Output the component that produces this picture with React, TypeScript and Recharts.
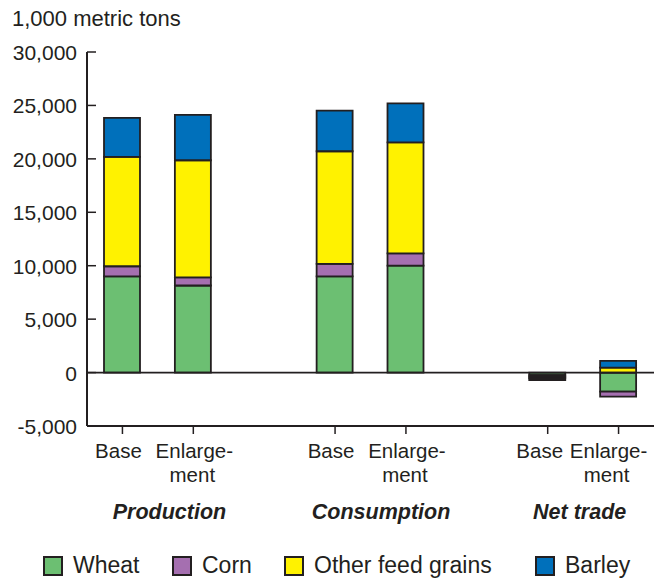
import React from "react";
import {
  Bar,
  BarChart,
  ReferenceLine,
  XAxis,
  YAxis,
} from "recharts";

// slots: two bars per group, an empty slot between groups
const slots = ["Base", "Enlargement", "", "Base", "Enlargement", "", "Base", "Enlargement"];
const groups = ["Production", "Consumption", "Net trade"];

const wheat = [9000, 8150, null, 9000, 10000, null, -250, -1780];
const corn = [950, 750, null, 1180, 1150, null, -150, -470];
const otherFeed = [10240, 10970, null, 10530, 10400, null, -150, 470];
const barley = [3650, 4250, null, 3800, 3650, null, -150, 620];

const yTicks = [-5000, 0, 5000, 10000, 15000, 20000, 25000, 30000];

const data = slots.map((name, i) => ({
  name,
  wheat: wheat[i],
  corn: corn[i],
  other: otherFeed[i],
  barley: barley[i],
}));

const FONT = "'Liberation Sans', Arial, Helvetica, sans-serif";
const INK = "#231f20";

const series = [
  { key: "wheat", label: "Wheat", color: "#6cbf72" },
  { key: "corn", label: "Corn", color: "#a56fb0" },
  { key: "other", label: "Other feed grains", color: "#fff200" },
  { key: "barley", label: "Barley", color: "#0070bb" },
];

const AXIS_X = 87;
const AXIS_Y = 426;

// small label nudges, per group
const groupDx = [47, 46, 32];
const baseDx = [-4, -4, -8];
const enlDx = [1, 1, -10];

function XTick(props: any) {
  const { x, payload } = props;
  const i = payload.index;
  const label = slots[i];
  if (!label) return null;
  const gi = Math.floor(i / 3);
  const isEnl = label === "Enlargement";
  const dx = isEnl ? enlDx[gi] : baseDx[gi];
  const y = AXIS_Y;
  return (
    <g>
      <line x1={x} x2={x} y1={y} y2={y + 8} stroke={INK} strokeWidth={1.5} />
      <text
        x={x + dx}
        y={y + 32}
        textAnchor="middle"
        fontFamily={FONT}
        fontSize={20.5}
        fill={INK}
      >
        {isEnl ? "Enlarge-" : label}
      </text>
      {isEnl && (
        <text
          x={x + dx - 2}
          y={y + 55.5}
          textAnchor="middle"
          fontFamily={FONT}
          fontSize={20.5}
          fill={INK}
        >
          ment
        </text>
      )}
      {!isEnl && (
        <text
          x={x + groupDx[gi]}
          y={y + 93}
          textAnchor="middle"
          fontFamily={FONT}
          fontSize={21.5}
          fontWeight="bold"
          fontStyle="italic"
          fill={INK}
        >
          {groups[gi]}
        </text>
      )}
    </g>
  );
}

function YTick(props: any) {
  const { y, payload } = props;
  return (
    <g>
      <line x1={AXIS_X} x2={AXIS_X + 9} y1={y} y2={y} stroke={INK} strokeWidth={1.5} />
      <text
        x={AXIS_X - 10}
        y={y}
        dy="0.38em"
        textAnchor="end"
        fontFamily={FONT}
        fontSize={21}
        fill={INK}
      >
        {payload.value.toLocaleString("en-US")}
      </text>
    </g>
  );
}

const legendLeft = [43, 172, 284, 535];

export default function App() {
  return (
    <div
      style={{
        position: "absolute",
        left: 0,
        top: 0,
        width: 656,
        height: 579,
        background: "#fff",
        fontFamily: FONT,
      }}
    >
      <div
        style={{
          position: "absolute",
          left: 12,
          top: 6,
          fontSize: 22,
          color: INK,
          whiteSpace: "nowrap",
        }}
      >
        1,000 metric tons
      </div>
      <BarChart
        width={656}
        height={579}
        data={data}
        stackOffset="sign"
        margin={{ top: 52, right: 2, left: 0, bottom: 0 }}
      >
        <XAxis
          dataKey="name"
          height={153}
          interval={0}
          tickSize={6}
          tickMargin={0}
          tickLine={false}
          tick={<XTick />}
          axisLine={{ stroke: INK, strokeWidth: 2 }}
        />
        <XAxis
          xAxisId="top"
          orientation="top"
          dataKey="name"
          height={0}
          tick={false}
          tickLine={false}
          axisLine={{ stroke: INK, strokeWidth: 2 }}
        />
        <YAxis
          width={87}
          domain={[-5000, 30000]}
          ticks={yTicks}
          interval={0}
          tickSize={6}
          tickMargin={4}
          tickLine={false}
          tick={<YTick />}
          axisLine={{ stroke: INK, strokeWidth: 2 }}
        />
        <YAxis
          yAxisId="right"
          orientation="right"
          width={0}
          tick={false}
          tickLine={false}
          axisLine={{ stroke: INK, strokeWidth: 2 }}
        />
        {series.map((s) => (
          <Bar
            key={s.key}
            dataKey={s.key}
            stackId="a"
            fill={s.color}
            stroke={INK}
            strokeWidth={1.8}
            barSize={36}
            isAnimationActive={false}
          />
        ))}
        <ReferenceLine y={0} stroke={INK} strokeWidth={1.8} />
      </BarChart>
      {series.map((s, i) => (
        <div
          key={s.key}
          style={{
            position: "absolute",
            left: legendLeft[i],
            top: 552,
            display: "flex",
            alignItems: "center",
            fontSize: 23,
            color: INK,
            whiteSpace: "nowrap",
          }}
        >
          <span
            style={{
              display: "inline-block",
              width: 16,
              height: 16,
              background: s.color,
              border: `2px solid ${INK}`,
              marginRight: 10,
            }}
          />
          {s.label}
        </div>
      ))}
    </div>
  );
}
